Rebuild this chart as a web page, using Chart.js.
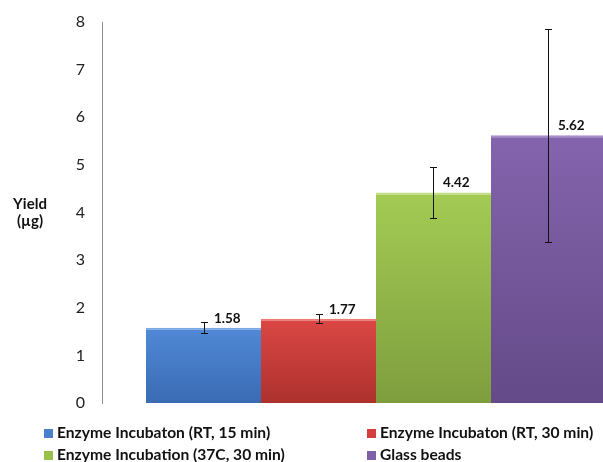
<!DOCTYPE html>
<html lang="en">
<head>
    <meta charset="UTF-8">
    <title>Yield</title>
    <style>
      body {
        margin: 0;
        padding: 0;
        background: #fff;
        overflow: hidden;
        font-family: 'Lato', sans-serif;
      }
      #wrap {
        position: relative;
        width: 650px;
        height: 462px;
      }
      #legend {
        position: absolute;
        left: 0;
        top: 0;
        width: 603px;
        height: 462px;
        pointer-events: none;
      }
      .item {
        position: absolute;
        font-size: 15.6px;
        font-weight: bold;
        color: #111;
        white-space: nowrap;
        line-height: 18px;
      }
      .item span {
        display: inline-block;
        width: 9px;
        height: 9px;
        margin-right: 4px;
        vertical-align: 0px;
      }
    </style>
    <script src="https://cdn.jsdelivr.net/npm/chart.js"></script>
</head>
<body>
  <div id="wrap">
    <canvas id="chartCanvas"></canvas>
    <div id="legend"></div>
  </div>

  <script>
    const seriesNames = [
      'Enzyme Incubaton (RT, 15 min)',
      'Enzyme Incubaton (RT, 30 min)',
      'Enzyme Incubation (37C, 30 min)',
      'Glass beads'
    ];
    const yieldValues = [1.58, 1.77, 4.42, 5.62];
    const errorValues = [0.12, 0.10, 0.54, 2.24];
    const yTicks = [0, 1, 2, 3, 4, 5, 6, 7, 8];

    const topColors = ['#5089d6', '#db4744', '#a4cb54', '#8464ad'];
    const bottomColors = ['#3a6bb3', '#ad312e', '#7e9e3e', '#644a88'];
    const edgeColors = ['#7aa9e6', '#ec7a77', '#c2df85', '#a88dcb'];
    const legendColors = ['#4a80cc', '#d23f3c', '#98c04b', '#7d5fa6'];

    function barGradient(i) {
      return function(context) {
        const chart = context.chart;
        if (!chart.chartArea) return topColors[i];
        const y = chart.scales.y;
        const top = y.getPixelForValue(yieldValues[i]);
        const bottom = y.getPixelForValue(0);
        const g = chart.ctx.createLinearGradient(0, top, 0, bottom);
        g.addColorStop(0, topColors[i]);
        g.addColorStop(1, bottomColors[i]);
        return g;
      };
    }

    const datasets = seriesNames.map((name, i) => ({
      label: name,
      data: [yieldValues[i]],
      backgroundColor: barGradient(i),
      borderColor: edgeColors[i],
      borderWidth: {top: 2, left: 0, right: 0, bottom: 0},
      borderSkipped: false,
      barPercentage: 1,
      categoryPercentage: 0.8394
    }));

    // error bars, value labels and the axis title
    const extras = {
      id: 'extras',
      afterDatasetsDraw(chart) {
        const ctx = chart.ctx;
        const y = chart.scales.y;
        ctx.save();
        chart.data.datasets.forEach((ds, i) => {
          const bar = chart.getDatasetMeta(i).data[0];
          const x = Math.round(bar.x);
          const hi = Math.round(y.getPixelForValue(yieldValues[i] + errorValues[i]));
          const lo = Math.round(y.getPixelForValue(yieldValues[i] - errorValues[i]));
          ctx.strokeStyle = '#111';
          ctx.lineWidth = 1;
          ctx.beginPath();
          ctx.moveTo(x + 0.5, hi);
          ctx.lineTo(x + 0.5, lo);
          ctx.moveTo(x - 3, hi + 0.5);
          ctx.lineTo(x + 4, hi + 0.5);
          ctx.moveTo(x - 3, lo + 0.5);
          ctx.lineTo(x + 4, lo + 0.5);
          ctx.stroke();

          ctx.fillStyle = '#111';
          ctx.font = 'bold 13.5px Lato';
          ctx.textAlign = 'left';
          ctx.textBaseline = 'alphabetic';
          ctx.fillText(yieldValues[i].toFixed(2), x + 10, bar.y - 5);
        });

        ctx.font = 'bold 15px Lato';
        ctx.textAlign = 'center';
        ctx.textBaseline = 'middle';
        ctx.fillText('Yield', 30, 204);
        ctx.fillText('(\u00b5g)', 30, 221);
        ctx.restore();
      }
    };

    new Chart(document.getElementById('chartCanvas'), {
      type: 'bar',
      data: {
        labels: [''],
        datasets: datasets
      },
      options: {
        responsive: true,
        maintainAspectRatio: false,
        animation: false,
        layout: {
          padding: {left: 0, right: 0, top: 22, bottom: 59}
        },
        plugins: {
          legend: {display: false},
          tooltip: {enabled: false}
        },
        scales: {
          x: {
            display: false
          },
          y: {
            min: 0,
            max: 8,
            afterFit(scale) {
              scale.width = 102;
              scale.paddingTop = 0;
              scale.paddingBottom = 0;
            },
            afterBuildTicks(scale) { scale.ticks = yTicks.map(v => ({value: v})); },
            grid: {display: false, drawTicks: false},
            border: {display: true, color: '#8c8c8c', width: 1},
            ticks: {
              padding: 17,
              color: '#222',
              font: {family: 'Lato', size: 16}
            }
          }
        }
      },
      plugins: [extras]
    });

    // two-column legend
    const legend = document.getElementById('legend');
    const legendPos = [[44, 423], [367, 423], [44, 445], [367, 445]];
    seriesNames.forEach((name, i) => {
      const div = document.createElement('div');
      div.className = 'item';
      div.style.left = legendPos[i][0] + 'px';
      div.style.top = legendPos[i][1] + 'px';
      const box = document.createElement('span');
      box.style.background = legendColors[i];
      div.appendChild(box);
      div.appendChild(document.createTextNode(name));
      legend.appendChild(div);
    });
  </script>
</body>
</html>
